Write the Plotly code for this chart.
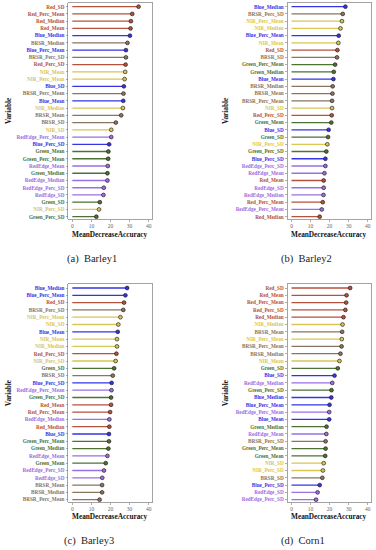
import plotly.graph_objects as go

# ---------------- data (top-to-bottom order as drawn) ----------------
barley1_vars = ["Red_SD", "Red_Perc_Mean", "Red_Median", "Red_Mean", "Blue_Median", "BRSR_Median",
                "Blue_Perc_Mean", "BRSR_Perc_SD", "Red_Perc_SD", "NIR_Mean", "NIR_Perc_Mean", "Blue_SD",
                "BRSR_Perc_Mean", "Blue_Mean", "NIR_Median", "BRSR_Mean", "BRSR_SD", "NIR_SD",
                "RedEdge_Perc_Mean", "Blue_Perc_SD", "Green_Mean", "Green_Perc_Mean", "RedEdge_Mean",
                "Green_Median", "RedEdge_Median", "RedEdge_Perc_SD", "RedEdge_SD", "Green_SD",
                "NIR_Perc_SD", "Green_Perc_SD"]
barley1_vals = [34.7, 31.4, 30.7, 30.5, 30.2, 28.9, 28.1, 28.1, 27.9, 27.7, 27.4, 27.0, 26.8, 26.7, 26.5,
                25.6, 22.8, 20.4, 20.4, 19.3, 18.9, 18.8, 18.6, 18.4, 18.4, 16.5, 16.3, 14.4, 14.0, 12.6]

barley2_vars = ["Blue_Median", "BRSR_Perc_SD", "NIR_Perc_Mean", "NIR_Median", "Blue_Perc_Mean", "NIR_Mean",
                "Red_SD", "BRSR_SD", "Green_Perc_Mean", "Green_Median", "Blue_Mean", "BRSR_Median",
                "BRSR_Mean", "BRSR_Perc_Mean", "NIR_SD", "Red_Perc_SD", "Green_Mean", "Blue_SD", "Green_SD",
                "NIR_Perc_SD", "Green_Perc_SD", "Blue_Perc_SD", "RedEdge_Perc_SD", "RedEdge_Mean",
                "Red_Mean", "RedEdge_SD", "RedEdge_Median", "Red_Perc_Mean", "RedEdge_Perc_Mean",
                "Red_Median"]
barley2_vals = [28.3, 26.9, 26.5, 25.7, 24.8, 24.6, 24.1, 23.9, 22.9, 22.2, 22.0, 21.6, 21.5, 21.3, 21.3,
                21.1, 20.9, 19.5, 19.2, 18.8, 18.3, 17.8, 17.8, 17.3, 16.9, 16.9, 16.8, 16.4, 15.9, 14.8]

barley3_vars = ["Blue_Median", "Blue_Perc_Mean", "Red_SD", "BRSR_Perc_SD", "NIR_Perc_Mean", "NIR_SD",
                "Blue_Mean", "NIR_Mean", "NIR_Median", "Red_Perc_SD", "NIR_Perc_SD", "Green_SD", "BRSR_SD",
                "Blue_Perc_SD", "RedEdge_Perc_Mean", "Green_Perc_SD", "Red_Mean", "Red_Perc_Mean",
                "RedEdge_Median", "Red_Median", "Blue_SD", "Green_Perc_Mean", "Green_Median",
                "RedEdge_Mean", "Green_Mean", "RedEdge_Perc_SD", "RedEdge_SD", "BRSR_Mean", "BRSR_Median",
                "BRSR_Perc_Mean"]
barley3_vals = [28.7, 27.8, 27.1, 26.7, 25.2, 24.1, 23.8, 23.4, 23.4, 23.1, 22.7, 21.9, 21.2, 20.6, 20.5,
                20.3, 20.3, 19.8, 19.4, 19.4, 19.2, 19.2, 18.9, 18.4, 17.5, 16.6, 15.7, 15.6, 15.6, 14.3]

corn1_vars = ["Red_SD", "Red_Mean", "Red_Perc_Mean", "Red_Perc_SD", "Red_Median", "NIR_Median", "BRSR_Mean",
              "NIR_Perc_Mean", "BRSR_Perc_Mean", "BRSR_Median", "NIR_Mean", "Green_SD", "Blue_SD",
              "RedEdge_Median", "Green_Perc_SD", "Blue_Median", "Blue_Perc_Mean", "RedEdge_Perc_Mean",
              "Blue_Mean", "Green_Median", "RedEdge_Mean", "BRSR_Perc_SD", "Green_Perc_Mean", "Green_Mean",
              "NIR_SD", "NIR_Perc_SD", "BRSR_SD", "Blue_Perc_SD", "RedEdge_SD", "RedEdge_Perc_SD"]
corn1_vals = [30.8, 28.9, 28.7, 28.3, 27.3, 26.8, 26.6, 26.4, 26.3, 25.7, 25.2, 24.3, 22.6, 21.4, 21.0,
              20.9, 20.0, 19.8, 19.8, 18.4, 18.3, 17.9, 17.9, 17.7, 16.9, 16.5, 16.2, 14.8, 13.7, 12.9]

captions = ["(a)\u00a0\u00a0Barley1", "(b)\u00a0\u00a0Barley2", "(c)\u00a0\u00a0Barley3", "(d)\u00a0\u00a0Corn1"]
x_ticks = [0, 10, 20, 30, 40]

band_colors = {
    "RedEdge": "#9a6fe0",
    "Red": "#b4523c",
    "BRSR": "#8a7560",
    "NIR": "#d9c653",
    "Green": "#4d7234",
    "Blue": "#3434e4",
}


def band_of(name):
    for b in ["RedEdge", "Red", "BRSR", "NIR", "Green", "Blue"]:
        if name.startswith(b + "_"):
            return b
    return "Red"


W, H = 376, 550
# (names, values, plot x-span px, plot y-span px, "Variable" x, caption x, caption y, title y)
panels = [
    (barley1_vars, barley1_vals, (68.3, 152.3), (2.7, 219.3), 9, 92, 259, 234.5),
    (barley2_vars, barley2_vals, (287.5, 371.3), (2.7, 219.3), 226, 306, 259, 234.5),
    (barley3_vars, barley3_vals, (68.3, 152.3), (284.0, 502.3), 9, 89, 541, 516),
    (corn1_vars, corn1_vals, (287.5, 371.3), (284.0, 502.3), 226, 303, 541, 516),
]

serif = "Liberation Serif"
fig = go.Figure()
annotations = []
layout_axes = {}

for i, (names, vals, (x0, x1), (y0, y1), var_x, cap_x, cap_y, tit_y) in enumerate(panels):
    k = "" if i == 0 else str(i + 1)
    xa, ya = "x" + k, "y" + k
    order_bottom_up = list(reversed(names))
    # segments grouped by band colour
    for band, col in band_colors.items():
        xs, ys = [], []
        for n, v in zip(names, vals):
            if band_of(n) == band:
                xs += [0, v, None]
                ys += [n, n, None]
        if xs:
            fig.add_trace(go.Scatter(x=xs, y=ys, mode="lines", xaxis=xa, yaxis=ya,
                                     line=dict(color=col, width=1.3), showlegend=False,
                                     hoverinfo="skip"))
    fig.add_trace(go.Scatter(x=vals, y=names, mode="markers", xaxis=xa, yaxis=ya,
                             marker=dict(size=3.8, color=[band_colors[band_of(n)] for n in names],
                                         line=dict(width=0.8, color="rgba(30,20,20,0.8)")),
                             showlegend=False, hoverinfo="skip"))
    ticktext = ["<b><span style='color:%s'>%s</span></b>" % (band_colors[band_of(n)], n)
                for n in order_bottom_up]
    layout_axes["xaxis" + k] = dict(
        domain=[x0 / W, x1 / W], anchor=ya, range=[-2.1, 41.9], tickvals=x_ticks,
        showgrid=False, zeroline=False, showline=True, mirror=True, linecolor="#8c8c8c",
        linewidth=0.8, ticks="outside", ticklen=1.5, tickwidth=0.6, tickcolor="#777",
        tickfont=dict(family=serif, size=5.5, color="#666"))
    layout_axes["yaxis" + k] = dict(
        domain=[1 - y1 / H, 1 - y0 / H], anchor=xa, type="category",
        categoryorder="array", categoryarray=order_bottom_up, range=[-0.36, 29.55],
        tickmode="array", tickvals=order_bottom_up, ticktext=ticktext,
        showgrid=False, zeroline=False, showline=True, mirror=True, linecolor="#8c8c8c",
        linewidth=0.8, ticks="outside", ticklen=2, tickwidth=0.6, tickcolor="#777",
        tickfont=dict(family=serif, size=5.2))
    # axis titles and caption
    annotations.append(dict(text="<b>MeanDecreaseAccuracy</b>", xref="paper", yref="paper",
                            x=(x0 + x1) / 2 / W, y=1 - tit_y / H, xanchor="center", yanchor="middle",
                            showarrow=False, font=dict(family=serif, size=7.3, color="#111")))
    annotations.append(dict(text="<b>Variable</b>", xref="paper", yref="paper", textangle=-90,
                            x=var_x / W, y=1 - (y0 + y1) / 2 / H, xanchor="center", yanchor="middle",
                            showarrow=False, font=dict(family=serif, size=7.2, color="#111")))
    annotations.append(dict(text=captions[i], xref="paper", yref="paper",
                            x=cap_x / W, y=1 - cap_y / H, xanchor="center", yanchor="middle",
                            showarrow=False, font=dict(family=serif, size=10.5, color="#222")))

fig.update_layout(width=W, height=H, margin=dict(l=0, r=0, t=0, b=0), hovermode=False,
                  paper_bgcolor="white", plot_bgcolor="white", annotations=annotations,
                  **layout_axes)
fig.write_html("out.html", config={"displayModeBar": False, "staticPlot": True},
               post_script="document.body.style.margin='0';")
